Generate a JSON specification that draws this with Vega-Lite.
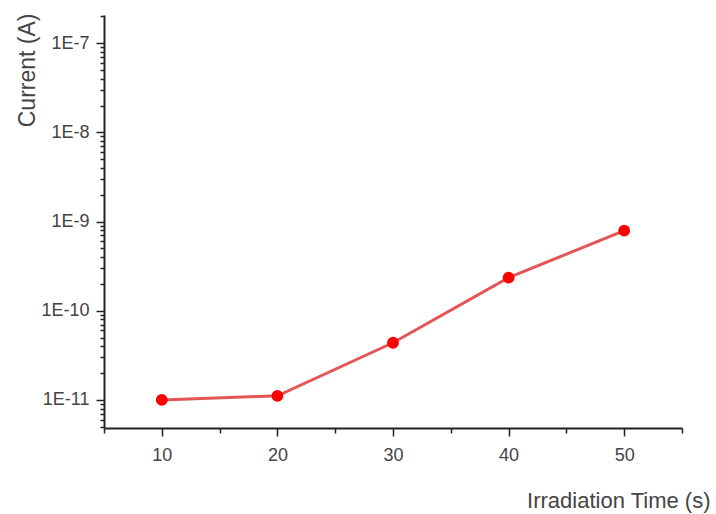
{
  "$schema": "https://vega.github.io/schema/vega-lite/v6.json",
  "width": 578,
  "height": 413,
  "autosize": "none",
  "padding": {"left": 104, "top": 15, "right": 34, "bottom": 86},
  "background": "white",
  "config": {
    "view": {"stroke": null},
    "font": "Liberation Sans"
  },
  "data": {
    "values": [
      {"t": 10, "current": 1.0e-11},
      {"t": 20, "current": 1.11e-11},
      {"t": 30, "current": 4.37e-11},
      {"t": 40, "current": 2.35e-10},
      {"t": 50, "current": 7.9e-10}
    ]
  },
  "encoding": {
    "x": {
      "field": "t",
      "type": "quantitative",
      "scale": {"domain": [5, 55], "nice": false, "zero": false},
      "axis": {
        "title": "Irradiation Time (s)",
        "values": [5, 10, 15, 20, 25, 30, 35, 40, 45, 50, 55],
        "labelExpr": "datum.value % 10 == 0 ? datum.value : ''",
        "grid": false,
        "domainColor": "#222",
        "domainWidth": 2,
        "tickColor": "#222",
        "tickWidth": 1.5,
        "tickSize": {"condition": {"test": "datum.value % 10 == 0", "value": 8}, "value": 5},
        "labelFontSize": 18,
        "labelColor": "#444",
        "labelPadding": 10,
        "labelFlush": false,
        "titleFontSize": 22,
        "titleFontWeight": "normal",
        "titleColor": "#444",
        "titleAlign": "right",
        "titleBaseline": "middle",
        "titleAnchor": "end",
        "titleX": 606,
        "titleY": 72
      }
    },
    "y": {
      "field": "current",
      "type": "quantitative",
      "scale": {"type": "log", "domain": [4.84e-12, 2.07e-7], "nice": false},
      "axis": {
        "title": "Current (A)",
        "values": [5e-12, 6e-12, 7e-12, 8e-12, 9e-12,
                   1e-11, 2e-11, 3e-11, 4e-11, 5e-11, 6e-11, 7e-11, 8e-11, 9e-11,
                   1e-10, 2e-10, 3e-10, 4e-10, 5e-10, 6e-10, 7e-10, 8e-10, 9e-10,
                   1e-9, 2e-9, 3e-9, 4e-9, 5e-9, 6e-9, 7e-9, 8e-9, 9e-9,
                   1e-8, 2e-8, 3e-8, 4e-8, 5e-8, 6e-8, 7e-8, 8e-8, 9e-8,
                   1e-7, 2e-7],
        "labelExpr": "abs(log(datum.value)/LN10 - round(log(datum.value)/LN10)) < 0.01 ? '1E' + round(log(datum.value)/LN10) : ''",
        "grid": false,
        "domainColor": "#222",
        "domainWidth": 2,
        "tickColor": "#222",
        "tickWidth": 1.5,
        "tickSize": {"condition": {"test": "abs(log(datum.value)/LN10 - round(log(datum.value)/LN10)) < 0.01", "value": 8}, "value": 4},
        "labelFontSize": 18,
        "labelColor": "#444",
        "labelPadding": 7,
        "labelFlush": false,
        "labelOverlap": false,
        "titleFontSize": 23,
        "titleFontWeight": "normal",
        "titleColor": "#444",
        "titleAngle": -90,
        "titleAlign": "right",
        "titleBaseline": "middle",
        "titleX": -77,
        "titleY": -2
      }
    }
  },
  "layer": [
    {
      "mark": {"type": "line", "color": "#e45656", "strokeWidth": 3, "interpolate": "linear"}
    },
    {
      "mark": {"type": "point", "filled": true, "color": "#ff0000", "opacity": 1, "size": 140}
    }
  ]
}
